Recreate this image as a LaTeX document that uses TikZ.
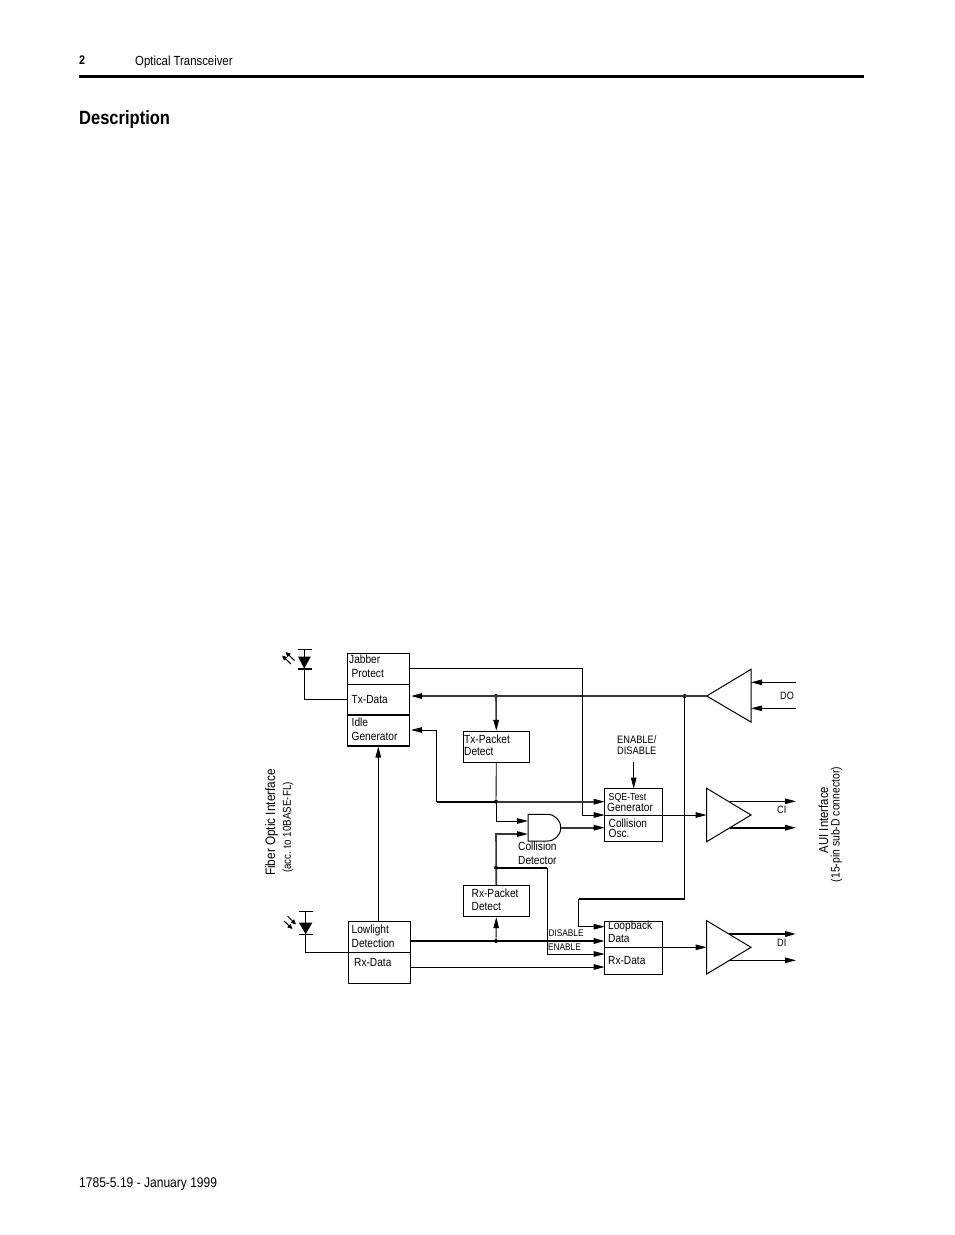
\documentclass[tikz,border=0pt]{standalone}
\usepackage{fontspec}
\setmainfont[FakeStretch=0.86]{Liberation Sans}
\newfontfamily\boldf[FakeStretch=0.86]{Liberation Sans Bold}
\usetikzlibrary{arrows.meta}
\tikzset{
 x=1pt,y=-1pt,
 box/.style={draw,line width=1pt,inner sep=0pt},
 lab/.style={font=\fontsize{11.8}{13}\selectfont,align=left,inner sep=0pt,anchor=west},
 tiny/.style={font=\fontsize{9.6}{11}\selectfont,align=left,inner sep=0pt,anchor=west},
 wire/.style={line width=.9pt},
 gwire/.style={line width=1.6pt,draw=black!78},
 thick wire/.style={line width=1.8pt},
 arr/.style={-{Triangle[length=11pt,width=5.5pt,color=black]}},
 lit/.style={line width=1pt,-{Triangle[length=5pt,width=4.5pt]}},
 jun/.style={circle,fill=black,inner sep=0pt,minimum size=4pt},
 amp/.style={draw,line width=1pt,fill=white,line join=miter},
}
\begin{document}
\begin{tikzpicture}
\useasboundingbox (0,0) rectangle (954,1235);
% page furniture
\node[anchor=west,inner sep=0pt,font=\boldf\fontsize{12.5}{14}\selectfont] (pg) at (79,60.5) {2};
\node[lab,font=\fontsize{13.2}{14}\selectfont] (hd) at (135,61.8) {Optical Transceiver};
\coordinate (ra) at (79,76.5); \coordinate (rb) at (864,76.5);
\draw[line width=3pt] (ra) -- (rb);
\node[anchor=west,inner sep=0pt,font=\boldf\fontsize{19.2}{24}\selectfont] (dsc) at (79,120) {Description};
\node[lab,font=\fontsize{14}{15}\selectfont] (ft) at (79,1183.8) {1785-5.19 - January 1999};
% coordinates
\coordinate (j1) at (347.7,653.5); \coordinate (j2) at (409.3,746);
\coordinate (sq1) at (604.7,788.7); \coordinate (sq2) at (662.3,841.7);
\coordinate (lb1) at (604.7,921.3); \coordinate (lb2) at (662.3,974);
\coordinate (ll1) at (348.3,921.7); \coordinate (ll2) at (410.3,983.3);
% boxes
\draw[box] (j1) rectangle (j2);
\draw[line width=.8pt] (347.7,684.3) -- (409.3,684.3);
\draw[line width=1.6pt] (347.7,715) -- (409.3,715);
\draw[line width=1.6pt] (347.7,746) -- (409.3,746);
\node[box] (txp) at (496.3,746.7) [minimum width=66pt,minimum height=30.7pt] {};
\draw[line width=1.6pt] (txp.south west) -- (txp.south east);
\node[box] (rxp) at (496.3,901.2) [minimum width=66pt,minimum height=31pt] {};
\draw[box] (sq1) rectangle (sq2);
\draw[box] (lb1) rectangle (lb2);
\draw[box] (ll1) rectangle (ll2);
\draw[line width=.8pt] (348.3,952.3) -- (410.3,952.3);
% amplifiers
\node[inner sep=0pt] (doL) at (706.7,696) {};
\draw[amp] (doL.center) -- (751,669.3) -- (751,722) -- cycle;
\coordinate (ciL) at (706.7,815); \coordinate (ciR) at (751,815);
\draw[amp] (706.7,788.3) -- (ciR) -- (706.7,841.7) -- cycle;
\coordinate (diL) at (706.7,947.3); \coordinate (diR) at (751,947.3);
\draw[amp] (706.7,920.7) -- (diR) -- (706.7,974) -- cycle;
% AND gate
\draw[line width=1pt] (547.4,814.3) -- (528,814.3) -- (528,841) -- (547.4,841) arc[start angle=-90,end angle=90,radius=13.35pt] -- cycle;
\coordinate (andT) at (528,821); \coordinate (andB) at (528,834); \coordinate (andO) at (561,827.7);
% junctions
\node[jun] (a) at (496,696) {};
\node[jun] (b) at (684.7,696) {};
\node[jun] (c) at (496,801.7) {};
\node[jun] (d) at (496,867.7) {};
\node[jun] (e) at (496,941) {};
% wires
\draw[gwire,arr] (doL.center) -- (b.center) -- (a.center) -- (411,696);
\draw[gwire,arr] (a.center) -- (txp.north);
\draw[wire,arr] (409.3,668.3) -- (582.7,668.3) -- (582.7,815) -- (604.7,815);
\draw[thick wire] (436.7,801.7) -- (c.center);
\draw[wire,arr] (436.7,801.7) -- (436.7,730) -- (411,730);
\draw[gwire,arr] (c.center) -- (604.7,801.7);
\draw[wire] (txp.south) -- (c.center);
\draw[wire,arr] (c.center) -- (496,821) -- (andT);
\draw[gwire,arr] (rxp.north) -- (496,834) -- (andB);
\draw[gwire,arr] (andO) -- (604.7,827.7);
\draw[thick wire] (d.center) -- (547.3,867.7);
\draw[wire,arr] (547.3,867.7) -- (547.3,954) -- (604.7,954);
\draw[thick wire,arr] (410.3,941) -- (604.7,941);
\draw[wire,arr] (e.center) -- (rxp.south);
\draw[wire,arr] (410.3,967) -- (604.7,967);
\draw[wire,arr] (378.3,921.7) -- (378.3,746.5);
\draw[thick wire] (684.7,898.7) -- (578.7,898.7);
\draw[wire] (b.center) -- (684.7,898.7);
\draw[wire,arr] (578.7,898.7) -- (578.7,926.7) -- (604.7,926.7);
\draw[wire,arr] (604.7,815) -- (ciL);
\draw[wire,arr] (604.7,947.3) -- (diL);
\draw[wire,arr] (633.7,762.3) -- (633.7,788.7);
% outputs and inputs
\coordinate (d1) at (796,682.3); \coordinate (d2) at (796,708.3);
\draw[wire,arr] (d1) -- (751,682.3);
\draw[wire,arr] (d2) -- (751,708.3);
\draw[wire,arr] (730,801.3) -- (796,801.3);
\draw[thick wire,arr] (730,827.7) -- (796,827.7);
\draw[thick wire,arr] (729,934) -- (796,934);
\draw[wire,arr] (729,960.3) -- (796,960.3);
% diodes
\draw[line width=.8pt] (297.5,649.3) -- (311.5,649.3) (304.3,649.3) -- (304.3,657);
\fill (298,656.7) -- (310.7,656.7) -- (304.3,668.7) -- cycle;
\draw[line width=1.6pt] (297.5,668.7) -- (311.5,668.7);
\draw[wire] (304.3,668.7) -- (304.3,699.3) -- (347.7,699.3);
\draw[line width=.8pt] (298.5,911.3) -- (312.7,911.3) (298.5,934.3) -- (312.7,934.3) (305.7,911.3) -- (305.7,923);
\fill (299,922.7) -- (312.3,922.7) -- (305.7,934.3) -- cycle;
\draw[wire] (305.7,934.3) -- (305.7,952.3) -- (348.3,952.3);
% light arrows
\draw[lit] (291,664) -- (282,655.5);
\draw[lit] (294.5,660.5) -- (285.5,652);
\draw[lit] (284,921) -- (292.5,929);
\draw[lit] (287.5,916) -- (296,924.5);
% labels
\node[lab] at (349,659.5) {Jabber};
\node[lab] at (351.5,673) {Protect};
\node[lab] at (351.5,699) {Tx-Data};
\node[lab] at (351.5,722) {Idle};
\node[lab] at (351.5,736) {Generator};
\node[lab] at (464,739) {Tx-Packet};
\node[lab] at (464,751) {Detect};
\node[lab] at (471.5,893) {Rx-Packet};
\node[lab] at (471.5,906) {Detect};
\node[lab] at (351.5,930) {Lowlight};
\node[lab] at (351.5,943) {Detection};
\node[lab] at (354,962) {Rx-Data};
\node[lab,font=\fontsize{10.8}{12}\selectfont] at (617,739.5) {ENABLE/};
\node[lab,font=\fontsize{10.8}{12}\selectfont] at (617,751) {DISABLE};
\node[tiny,font=\fontsize{10.2}{12}\selectfont] at (608.5,797.5) {SQE-Test};
\node[lab] at (607,807) {Generator};
\node[lab] at (608.5,823) {Collision};
\node[lab] at (608.5,833) {Osc.};
\node[lab] at (518,846) {Collision};
\node[lab] at (518,860) {Detector};
\node[lab] at (608,926) {Loopback};
\node[lab] at (608,938) {Data};
\node[lab] at (608,960) {Rx-Data};
\node[tiny] at (548.5,933.5) {DISABLE};
\node[tiny] at (548,947.5) {ENABLE};
\node[lab,font=\fontsize{10.6}{12}\selectfont] at (780,696) {DO};
\node[lab,font=\fontsize{10.6}{12}\selectfont] at (777,810) {CI};
\node[lab,font=\fontsize{10.6}{12}\selectfont] at (777,943) {DI};
\node[rotate=90,inner sep=0pt,font=\fontsize{13.7}{14}\selectfont] at (271.5,822.5) {Fiber Optic Interface};
\node[rotate=90,inner sep=0pt,font=\fontsize{11.4}{12}\selectfont] at (288,827.5) {(acc. to 10BASE-FL)};
\node[rotate=90,inner sep=0pt,font=\fontsize{13.2}{14}\selectfont] at (823.5,820) {AUI Interface};
\node[rotate=90,inner sep=0pt,font=\fontsize{12.1}{13}\selectfont] at (836.5,824.5) {(15-pin sub-D connector)};
\end{tikzpicture}
\end{document}
